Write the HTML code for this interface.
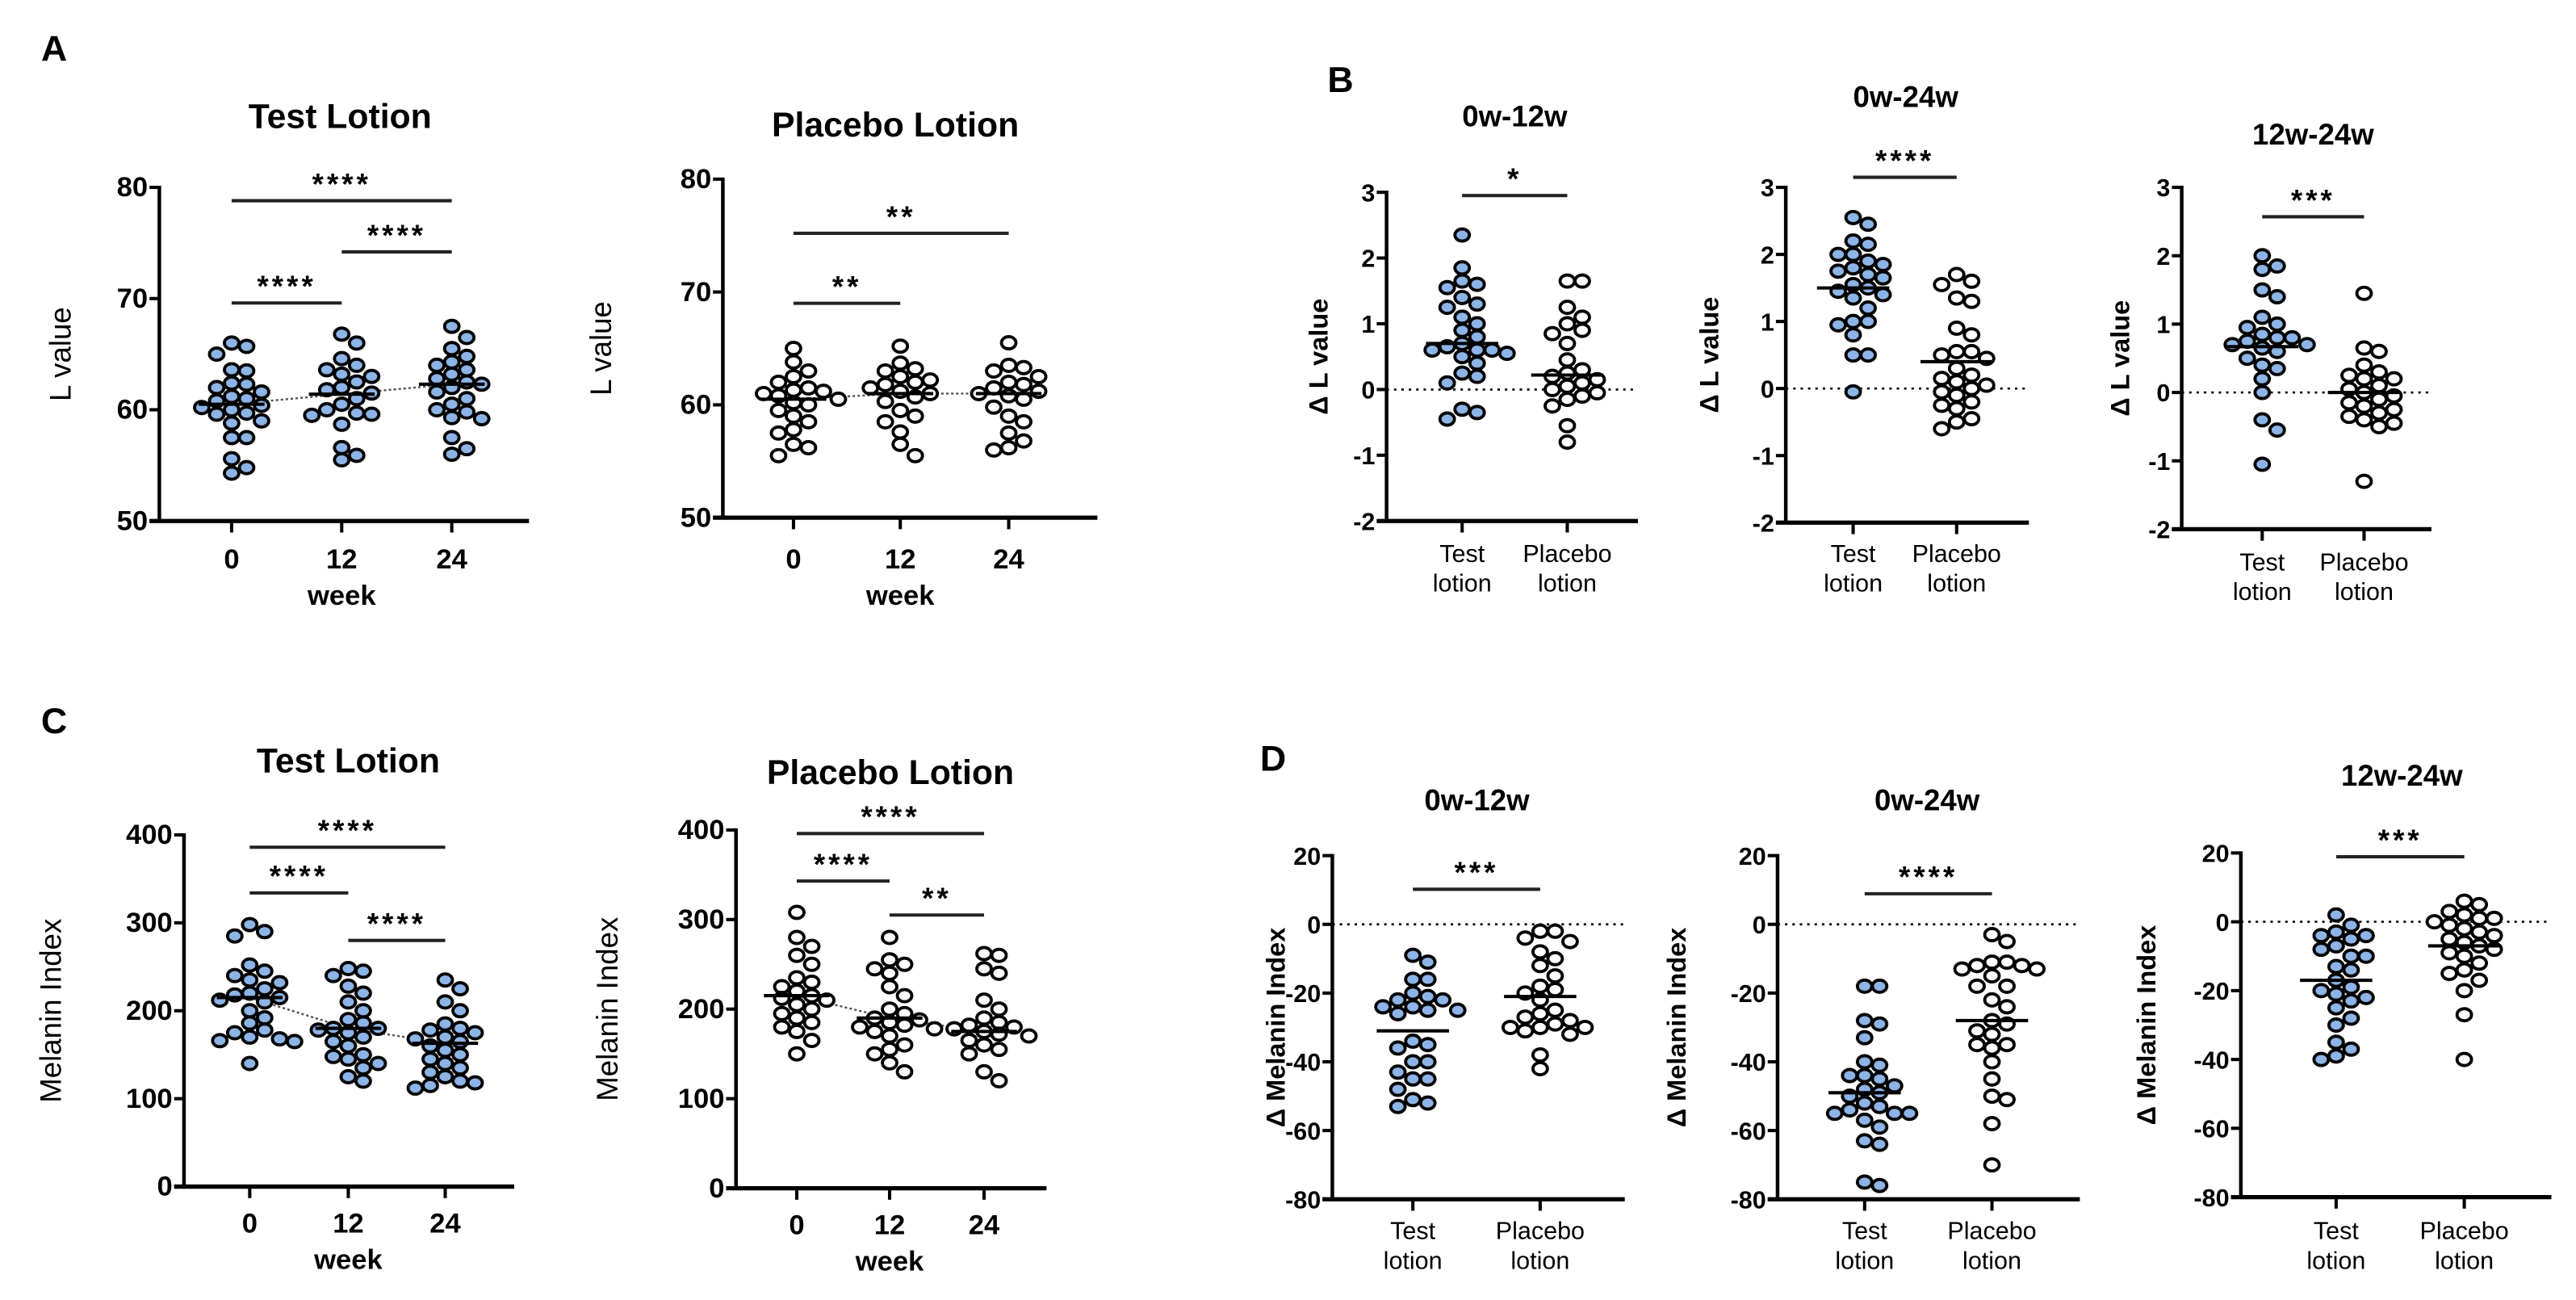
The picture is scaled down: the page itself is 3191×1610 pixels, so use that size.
<!DOCTYPE html>
<html><head><meta charset="utf-8"><style>
html,body{margin:0;padding:0;background:#fff;}
svg{display:block;}
text{font-family:"Liberation Sans",sans-serif;fill:#000;}
</style></head><body>
<svg id="fig" xmlns="http://www.w3.org/2000/svg" width="3191" height="1610" viewBox="0 0 1568 791" preserveAspectRatio="none">
<rect width="1568" height="791" fill="#fff"/>
</svg>
<script>
// ---- data ----
const weeks = ["0","12","24"];
const lotions = ["Test lotion","Placebo lotion"];
const ticksL = [50,60,70,80];
const ticksMel = [0,100,200,300,400];
const ticksDL = [-2,-1,0,1,2,3];
const ticksDM = [-80,-60,-40,-20,0,20];

const aTestW0 = [66,65.7,65,63.6,63.5,62.4,62.3,62,61.6,61.2,61,60.8,60.4,60.2,60,59.7,59.6,59,58.8,57.5,57.5,55.6,54.8,54.3];
const aTestW12 = [66.8,66,64.6,64,63.6,63.2,63,62.5,62,61.8,61.5,61,60.5,60,59.7,59.6,59.5,58.7,56.6,55.9,55.5];
const aTestW24 = [67.5,66.5,65.5,64.8,64.3,64,63.6,63.2,62.8,62.5,62.3,62,61.6,61,60.5,60,59.8,59.3,59.2,57.5,56.5,56];
const aTestMeans = [60.5,61.4,62.3];
const aPlaW0 = [65,63.8,63,62.5,62,61.5,61.3,61.2,61,60.8,60.5,60.2,60,59.5,59,58.5,57.8,57.5,56.5,56.2,55.5];
const aPlaW12 = [65.2,63.7,63.2,63,62.5,62.2,62,61.8,61.5,61.2,61,60.7,60.3,59.5,59,58.5,57.6,56.5,55.5];
const aPlaW24 = [65.5,63.5,63.3,63,62.5,62,61.8,61.5,61.2,61,60.8,60.5,59.8,59,58.5,57.5,56.8,56.2,56];
const aPlaMeans = [60.5,61,61];

const cTestW0 = [298,290,285,252,245,240,235,232,225,220,218,215,212,210,200,192,186,178,175,170,168,166,165,140];
const cTestW12 = [248,245,240,228,220,210,200,190,186,180,180,178,175,170,165,160,150,148,145,140,135,125,120];
const cTestW24 = [235,225,210,200,185,180,178,175,170,168,165,160,155,150,145,140,135,130,125,120,118,115,112];
const cTestMeans = [215,180,163];
const cPlaW0 = [308,280,270,260,250,235,230,225,220,215,212,210,205,200,195,190,185,180,175,165,150];
const cPlaW12 = [280,255,250,245,240,225,215,200,195,190,188,185,182,180,178,175,170,160,155,150,140,130];
const cPlaW24 = [262,260,245,240,210,200,190,185,182,180,178,175,172,170,165,160,155,150,130,120];
const cPlaMeans = [215,190,175];

const b1Test = [2.35,1.85,1.65,1.6,1.55,1.4,1.3,1.25,1.1,1.0,0.9,0.8,0.7,0.65,0.6,0.6,0.6,0.55,0.5,0.4,0.25,0.2,0.1,-0.3,-0.35,-0.45];
const b1Pla = [1.65,1.65,1.25,1.1,1.0,0.9,0.85,0.7,0.45,0.3,0.25,0.2,0.15,0.1,0.05,0.0,-0.05,-0.1,-0.15,-0.25,-0.55,-0.8];
const b1Means = [0.7,0.22];
const b2Test = [2.55,2.45,2.2,2.15,2.0,2.0,1.9,1.85,1.8,1.75,1.7,1.65,1.55,1.5,1.45,1.4,1.35,1.2,1.0,1.0,0.95,0.8,0.5,0.5,-0.05];
const b2Pla = [1.7,1.6,1.55,1.35,1.3,0.9,0.8,0.55,0.55,0.5,0.45,0.3,0.2,0.15,0.1,0.05,0.0,-0.05,-0.1,-0.2,-0.25,-0.3,-0.45,-0.5,-0.6];
const b2Means = [1.5,0.4];
const b3Test = [2.0,1.85,1.8,1.5,1.4,1.1,1.0,0.95,0.85,0.8,0.8,0.75,0.7,0.7,0.65,0.6,0.5,0.4,0.35,0.2,0.0,-0.4,-0.55,-1.05];
const b3Pla = [1.45,0.65,0.6,0.4,0.3,0.25,0.2,0.2,0.1,0.05,0.0,-0.05,-0.1,-0.15,-0.2,-0.25,-0.3,-0.35,-0.4,-0.45,-0.5,-1.3];
const b3Means = [0.67,0.0];

const d1Test = [-9,-11,-16,-16,-20,-21,-22,-22,-24,-24,-25,-25,-26,-34,-35,-36,-40,-40,-43,-45,-45,-48,-51,-52,-53];
const d1Pla = [-2,-2,-4,-5,-8,-10,-12,-15,-18,-19,-20,-22,-25,-26,-27,-28,-29,-30,-30,-30,-31,-32,-38,-42];
const d1Means = [-31,-21];
const d2Test = [-18,-18,-28,-29,-33,-40,-41,-44,-44,-45,-47,-48,-49,-50,-52,-53,-54,-55,-55,-55,-57,-59,-63,-64,-75,-76];
const d2Pla = [-3,-5,-11,-11,-12,-12,-13,-13,-15,-18,-18,-22,-24,-28,-29,-31,-32,-35,-35,-36,-40,-45,-50,-51,-58,-70];
const d2Means = [-49,-28];
const d3Test = [2,-1,-3,-4,-4,-5,-7,-8,-10,-10,-13,-14,-17,-19,-20,-21,-22,-23,-25,-28,-30,-35,-37,-39,-40];
const d3Pla = [6,5,3,2,1,1,0,-1,-2,-3,-4,-5,-6,-7,-8,-9,-10,-12,-14,-15,-17,-20,-27,-40];
const d3Means = [-17,-7];

const sigA1 = [[0,2,78.8,"****"],[1,2,74.2,"****"],[0,1,69.6,"****"]];
const sigA2 = [[0,2,75.2,"**"],[0,1,69,"**"]];
const sigC1 = [[0,2,386,"****"],[0,1,334,"****"],[1,2,280,"****"]];
const sigC2 = [[0,2,396,"****"],[0,1,343,"****"],[1,2,305,"**"]];
const sigB1 = [[0,1,2.95,"*"]];
const sigB2 = [[0,1,3.15,"****"]];
const sigB3 = [[0,1,2.57,"***"]];
const sigD1 = [[0,1,10.2,"***"]];
const sigD2 = [[0,1,8.9,"****"]];
const sigD3 = [[0,1,18.9,"***"]];

// ---- drawing ----
const NS = "http://www.w3.org/2000/svg";
const svg = document.getElementById('fig');
function mk(tag, attrs, parent, txt){
  const e = document.createElementNS(NS, tag);
  for (const k in attrs) e.setAttribute(k, attrs[k]);
  if (txt !== undefined) e.textContent = txt;
  (parent||svg).appendChild(e);
  return e;
}
const BLUE = "#8cb4e6";

function panel(p){
  const g = mk('g', {});
  
  
  const y = v => p.yBot - (v - p.dom[0])/(p.dom[1]-p.dom[0])*(p.yBot - p.yTop);
  const t = mk('text', {x:p.tx, y:p.ty, 'text-anchor':'middle', 'font-size':p.tfs, 'font-weight':'bold'}, g, p.title);
  
  
  const ya = mk('line', {x1:p.ax, x2:p.ax, y1:p.yTop-1, y2:p.yBot, stroke:'#000','stroke-width':2.2}, g);
  
  
  p.ticks.forEach(v=>{
    const yy = y(v);
    mk('line', {x1:p.ax-6, x2:p.ax, y1:yy, y2:yy, stroke:'#000','stroke-width':2}, g);
    const tl = mk('text', {x:p.ax-7, y:yy+5.5, 'text-anchor':'end', 'font-size':p.tkfs, 'font-weight':'bold'}, g, String(v));
    
    
  });
  const xa = mk('line', {x1:p.ax-6, x2:p.xEnd, y1:p.yBot, y2:p.yBot, stroke:'#000','stroke-width':2.6}, g);
  
  
  p.cx.forEach((cx,i)=>{
    mk('line', {x1:cx, x2:cx, y1:p.yBot, y2:p.yBot+7, stroke:'#000','stroke-width':2}, g);
    if (p.twoLine){
      const parts = p.cats[i].split(' ');
      const a = mk('text', {x:cx, y:p.catY, 'text-anchor':'middle', 'font-size':15}, g, parts[0]);
      
      
      const b = mk('text', {x:cx, y:p.catY+18, 'text-anchor':'middle', 'font-size':15}, g, parts[1]);
      
      
    } else {
      const a = mk('text', {x:cx, y:p.catY, 'text-anchor':'middle', 'font-size':17, 'font-weight':'bold'}, g, p.cats[i]);
      
      
    }
  });
  if (p.xTitle){
    const xt = mk('text', {x:p.cx[1], y:p.catY+22, 'text-anchor':'middle', 'font-size':17, 'font-weight':'bold'}, g, p.xTitle);
    
    
  }
  const yc = (p.yTop+p.yBot)/2;
  const yt = mk('text', {x:p.ylx, y:yc, 'text-anchor':'middle', 'font-size':p.ylfs, 'font-weight':p.ylbold?'bold':'normal', transform:`rotate(-90 ${p.ylx} ${yc})`}, g, p.ylabel);
  
  
  if (p.zero){
    const z = mk('line', {x1:p.ax, x2:p.xEnd, y1:y(0), y2:y(0), stroke:'#000','stroke-width':1.3,'stroke-dasharray':'1.5,3'}, g);
    
    
  }
  if (p.connect){
    const pts = p.means.map((m,i)=>`${p.cx[i]},${y(m)}`).join(' ');
    const pl = mk('polyline', {points:pts, fill:'none', stroke:'#555','stroke-width':1.2,'stroke-dasharray':'1.5,1.5'}, g);
    
    
  }
  const rx = 4.4, ry = 3.7, dx = 2*rx+0.3;
  p.series.forEach((vals,i)=>{
    const placed = [];
    const sorted = vals.slice().sort((a,b)=>b-a);
    sorted.forEach(v=>{
      const yy = y(v);
      let off = 0;
      for (let k=0;k<40;k++){
        const o = (k===0)?0:(k%2? Math.ceil(k/2): -Math.ceil(k/2))*dx;
        const ok = placed.every(q=>{
          const ddx=(q[0]-o)/(2*rx), ddy=(q[1]-yy)/(2*ry);
          return ddx*ddx+ddy*ddy >= 0.9;
        });
        if (ok){ off=o; break; }
      }
      placed.push([off,yy]);
      const c = mk('ellipse', {cx:p.cx[i]+off, cy:yy, rx:rx, ry:ry, fill:p.fills[i], stroke:'#000','stroke-width':1.9}, g);
      
      
    });
    const m = mk('line', {x1:p.cx[i]-p.mw, x2:p.cx[i]+p.mw, y1:y(p.means[i]), y2:y(p.means[i]), stroke:'#000','stroke-width':2}, g);
    
    
  });
  p.sig.forEach(s=>{
    const yy = y(s[2]);
    const bl = mk('line', {x1:p.cx[s[0]], x2:p.cx[s[1]], y1:yy, y2:yy, stroke:'#222','stroke-width':2}, g);
    
    
    const st = mk('text', {x:(p.cx[s[0]]+p.cx[s[1]])/2, y:yy-4, 'text-anchor':'middle', 'font-size':18, 'font-weight':'bold', 'letter-spacing':'2'}, g, s[3]);
    
    
  });
}

function letter(t,x,y){
  const e = mk('text', {x:x, y:y, 'font-size':22, 'font-weight':'bold'}, svg, t);
  
  
}
letter('A',25,37); letter('B',808,56); letter('C',25,446); letter('D',767,469);

const common3 = {twoLine:false, cats:weeks, xTitle:'week', connect:true, zero:false, mw:20, tfs:21, tkfs:17, ylfs:18, ylbold:false};
panel(Object.assign({}, common3, {name:'a-test-lotion-chart', title:'Test Lotion', tx:207, ty:78, ax:97, yTop:114, yBot:317, xEnd:322, cx:[141,208,275], dom:[50,80], ticks:ticksL, catY:346, ylabel:'L value', ylx:43, series:[aTestW0,aTestW12,aTestW24], means:aTestMeans, fills:[BLUE,BLUE,BLUE], sig:sigA1}));
panel(Object.assign({}, common3, {name:'a-placebo-lotion-chart', title:'Placebo Lotion', tx:545, ty:83, ax:440, yTop:109, yBot:315, xEnd:668, cx:[483,548,614], dom:[50,80], ticks:ticksL, catY:346, ylabel:'L value', ylx:372, series:[aPlaW0,aPlaW12,aPlaW24], means:aPlaMeans, fills:['#fff','#fff','#fff'], sig:sigA2}));
panel(Object.assign({}, common3, {name:'c-test-lotion-chart', title:'Test Lotion', tx:212, ty:470, ax:112, yTop:508, yBot:722, xEnd:313, cx:[152,212,271], dom:[0,400], ticks:ticksMel, catY:750, ylabel:'Melanin Index', ylx:37, series:[cTestW0,cTestW12,cTestW24], means:cTestMeans, fills:[BLUE,BLUE,BLUE], sig:sigC1}));
panel(Object.assign({}, common3, {name:'c-placebo-lotion-chart', title:'Placebo Lotion', tx:542, ty:477, ax:448, yTop:505, yBot:723, xEnd:637, cx:[485,541.5,599], dom:[0,400], ticks:ticksMel, catY:751, ylabel:'Melanin Index', ylx:376, series:[cPlaW0,cPlaW12,cPlaW24], means:cPlaMeans, fills:['#fff','#fff','#fff'], sig:sigC2}));

const common2 = {twoLine:true, cats:lotions, connect:false, zero:true, mw:22, tfs:18, tkfs:15, ylfs:16, ylbold:true, fills:[BLUE,'#fff']};
panel(Object.assign({}, common2, {name:'b-0w-12w-chart', title:'0w-12w', tx:922, ty:77, ax:844, yTop:117, yBot:317, xEnd:997, cx:[890,954], dom:[-2,3], ticks:ticksDL, catY:342, ylabel:'Δ L value', ylx:808, series:[b1Test,b1Pla], means:b1Means, sig:sigB1}));
panel(Object.assign({}, common2, {name:'b-0w-24w-chart', title:'0w-24w', tx:1160, ty:65, ax:1087, yTop:114, yBot:318, xEnd:1235, cx:[1128,1191], dom:[-2,3], ticks:ticksDL, catY:342, ylabel:'Δ L value', ylx:1046, series:[b2Test,b2Pla], means:b2Means, sig:sigB2}));
panel(Object.assign({}, common2, {name:'b-12w-24w-chart', title:'12w-24w', tx:1408, ty:88, ax:1328, yTop:114, yBot:322, xEnd:1480, cx:[1377,1439], dom:[-2,3], ticks:ticksDL, catY:347, ylabel:'Δ L value', ylx:1296, series:[b3Test,b3Pla], means:b3Means, sig:sigB3}));
panel(Object.assign({}, common2, {name:'d-0w-12w-chart', title:'0w-12w', tx:899, ty:493, ax:811, yTop:520.6, yBot:729.7, xEnd:989, cx:[860,937.5], dom:[-80,20], ticks:ticksDM, catY:754, ylabel:'Δ Melanin Index', ylx:782, series:[d1Test,d1Pla], means:d1Means, sig:sigD1}));
panel(Object.assign({}, common2, {name:'d-0w-24w-chart', title:'0w-24w', tx:1173, ty:493, ax:1082, yTop:520.6, yBot:729.7, xEnd:1266, cx:[1135,1212.5], dom:[-80,20], ticks:ticksDM, catY:754, ylabel:'Δ Melanin Index', ylx:1026, series:[d2Test,d2Pla], means:d2Means, sig:sigD2}));
panel(Object.assign({}, common2, {name:'d-12w-24w-chart', title:'12w-24w', tx:1462, ty:478, ax:1364, yTop:519, yBot:728.4, xEnd:1553, cx:[1422,1500], dom:[-80,20], ticks:ticksDM, catY:754, ylabel:'Δ Melanin Index', ylx:1312, series:[d3Test,d3Pla], means:d3Means, sig:sigD3}));
</script>
</body></html>
